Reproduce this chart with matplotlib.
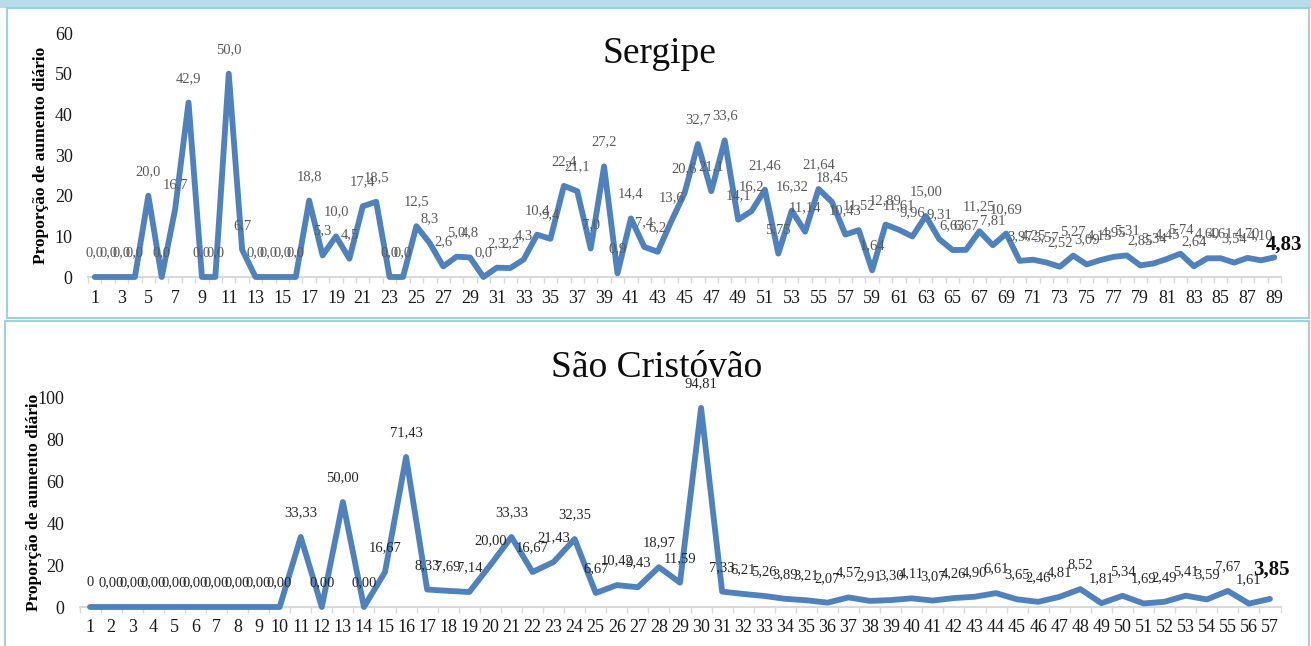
import matplotlib
matplotlib.use("Agg")
import matplotlib.pyplot as plt
from matplotlib.patches import Rectangle

plt.rcParams['font.family'] = ['Liberation Serif', 'DejaVu Serif']

# Sergipe - daily increase (%), days 1..89
sergipe_days = list(range(1, 90))
sergipe_vals = [0.0, 0.0, 0.0, 0.0, 20.0, 0.0, 16.7, 42.9, 0.0, 0.0,
                50.0, 6.7, 0.0, 0.0, 0.0, 0.0, 18.8, 5.3, 10.0, 4.5,
                17.4, 18.5, 0.0, 0.0, 12.5, 8.3, 2.6, 5.0, 4.8, 0.0,
                2.3, 2.2, 4.3, 10.4, 9.4, 22.4, 21.1, 7.0, 27.2, 0.9,
                14.4, 7.4, 6.2, 13.6, 20.6, 32.7, 21.1, 33.6, 14.1, 16.2,
                21.46, 5.75, 16.32, 11.14, 21.64, 18.45, 10.43, 11.52, 1.64, 12.89,
                11.61, 9.96, 15.00, 9.31, 6.63, 6.67, 11.25, 7.81, 10.69, 3.97,
                4.25, 3.57, 2.52, 5.27, 3.09, 4.13, 4.95, 5.31, 2.85, 3.34,
                4.45, 5.74, 2.64, 4.60, 4.61, 3.54, 4.70, 4.10, 4.83]

# São Cristóvão - daily increase (%), days 1..57
saocris_days = list(range(1, 58))
saocris_vals = [0, 0, 0, 0, 0, 0, 0, 0, 0, 0,
                33.33, 0.00, 50.00, 0.00, 16.67, 71.43, 8.33, 7.69, 7.14, 20.00,
                33.33, 16.67, 21.43, 32.35, 6.67, 10.42, 9.43, 18.97, 11.59, 94.81,
                7.33, 6.21, 5.26, 3.89, 3.21, 2.07, 4.57, 2.91, 3.30, 4.11,
                3.07, 4.26, 4.90, 6.61, 3.65, 2.46, 4.81, 8.52, 1.81, 5.34,
                1.69, 2.49, 5.41, 3.59, 7.67, 1.61, 3.85]

W, H = 1311, 646
fig = plt.figure(figsize=(W / 100, H / 100), dpi=100)

LINE = '#4f81bd'
BORDER = '#9dd1df'

# panel frames
fig.patches.append(Rectangle((0, 1 - 8 / H), 1, 8 / H, transform=fig.transFigure,
                             facecolor='#b6dde8', edgecolor='none'))
fig.patches.append(Rectangle((7 / W, 1 - 318 / H), 1302 / W, 310 / H, transform=fig.transFigure,
                             facecolor='none', edgecolor=BORDER, lw=1.5))
fig.patches.append(Rectangle((5 / W, -0.01), 1304 / W, 1 - 321 / H + 0.01, transform=fig.transFigure,
                             facecolor='none', edgecolor=BORDER, lw=1.5))


def fmt(v, d):
    return f"{v:.{d}f}".replace('.', ',')


def setup(ax, days, ymax, ystep, label_step):
    n = len(days)
    ax.set_xlim(0.5, n + 0.5)
    ax.set_ylim(0, ymax)
    for s in ['top', 'right', 'left']:
        ax.spines[s].set_visible(False)
    ax.spines['bottom'].set_color('#d9d9d9')
    ax.spines['bottom'].set_linewidth(1.5)
    ax.set_yticks(range(0, ymax + 1, ystep))
    ax.tick_params(axis='y', length=0, pad=11, labelsize=13, labelcolor='#1a1a1a')
    ax.set_xticks(days[::label_step])
    ax.set_xticks([d + 0.5 for d in [0] + days], minor=True)
    ax.tick_params(axis='x', which='major', length=0, pad=9, labelsize=13, labelcolor='#1a1a1a')
    ax.tick_params(axis='x', which='minor', length=4, color='#d9d9d9', width=1)
    ax.set_ylabel('Proporção de aumento diário', fontsize=12.5, fontweight='bold')


# --- Sergipe ---
ax1 = fig.add_axes([88 / W, 1 - 277 / H, 1193 / W, 244 / H])
setup(ax1, sergipe_days, 60, 10, 2)
ax1.yaxis.set_label_coords(-0.033, 0.5)
ax1.plot(sergipe_days, sergipe_vals, color=LINE, lw=4.2, solid_joinstyle='round',
         solid_capstyle='round', clip_on=False, zorder=3)
for i, (d, v) in enumerate(zip(sergipe_days[:-1], sergipe_vals[:-1])):
    ax1.annotate(fmt(v, 1 if i < 50 else 2), (d, v), xytext=(0, 17.5), textcoords='offset points',
                 ha='center', va='center', fontsize=10.5, color='#595959')
ax1.annotate(fmt(sergipe_vals[-1], 2), (sergipe_days[-1], sergipe_vals[-1]), xytext=(7, 9),
             textcoords='offset points', ha='center', va='center', fontsize=15,
             fontweight='bold', color='#0d0d0d')
fig.text(659 / W, 1 - 63 / H, 'Sergipe', ha='center', va='baseline', fontsize=27, color='#0d0d0d')

# --- São Cristóvão ---
ax2 = fig.add_axes([79.5 / W, 1 - 607 / H, 1201 / W, 210 / H])
setup(ax2, saocris_days, 100, 20, 1)
ax2.yaxis.set_label_coords(-0.031, 0.5)
ax2.plot(saocris_days, saocris_vals, color=LINE, lw=4.2, solid_joinstyle='round',
         solid_capstyle='round', clip_on=False, zorder=3)
for i, (d, v) in enumerate(zip(saocris_days[:-1], saocris_vals[:-1])):
    txt = '0' if i == 0 else fmt(v, 2)
    ax2.annotate(txt, (d, v), xytext=(0, 17.5), textcoords='offset points',
                 ha='center', va='center', fontsize=10.5, color='#262626')
ax2.annotate(fmt(saocris_vals[-1], 2), (saocris_days[-1], saocris_vals[-1]), xytext=(1, 21),
             textcoords='offset points', ha='center', va='center', fontsize=15,
             fontweight='bold', color='#0d0d0d')
fig.text(657 / W, 1 - 377 / H, 'São Cristóvão', ha='center', va='baseline', fontsize=27, color='#0d0d0d')

fig.savefig('out.png', dpi=100)
